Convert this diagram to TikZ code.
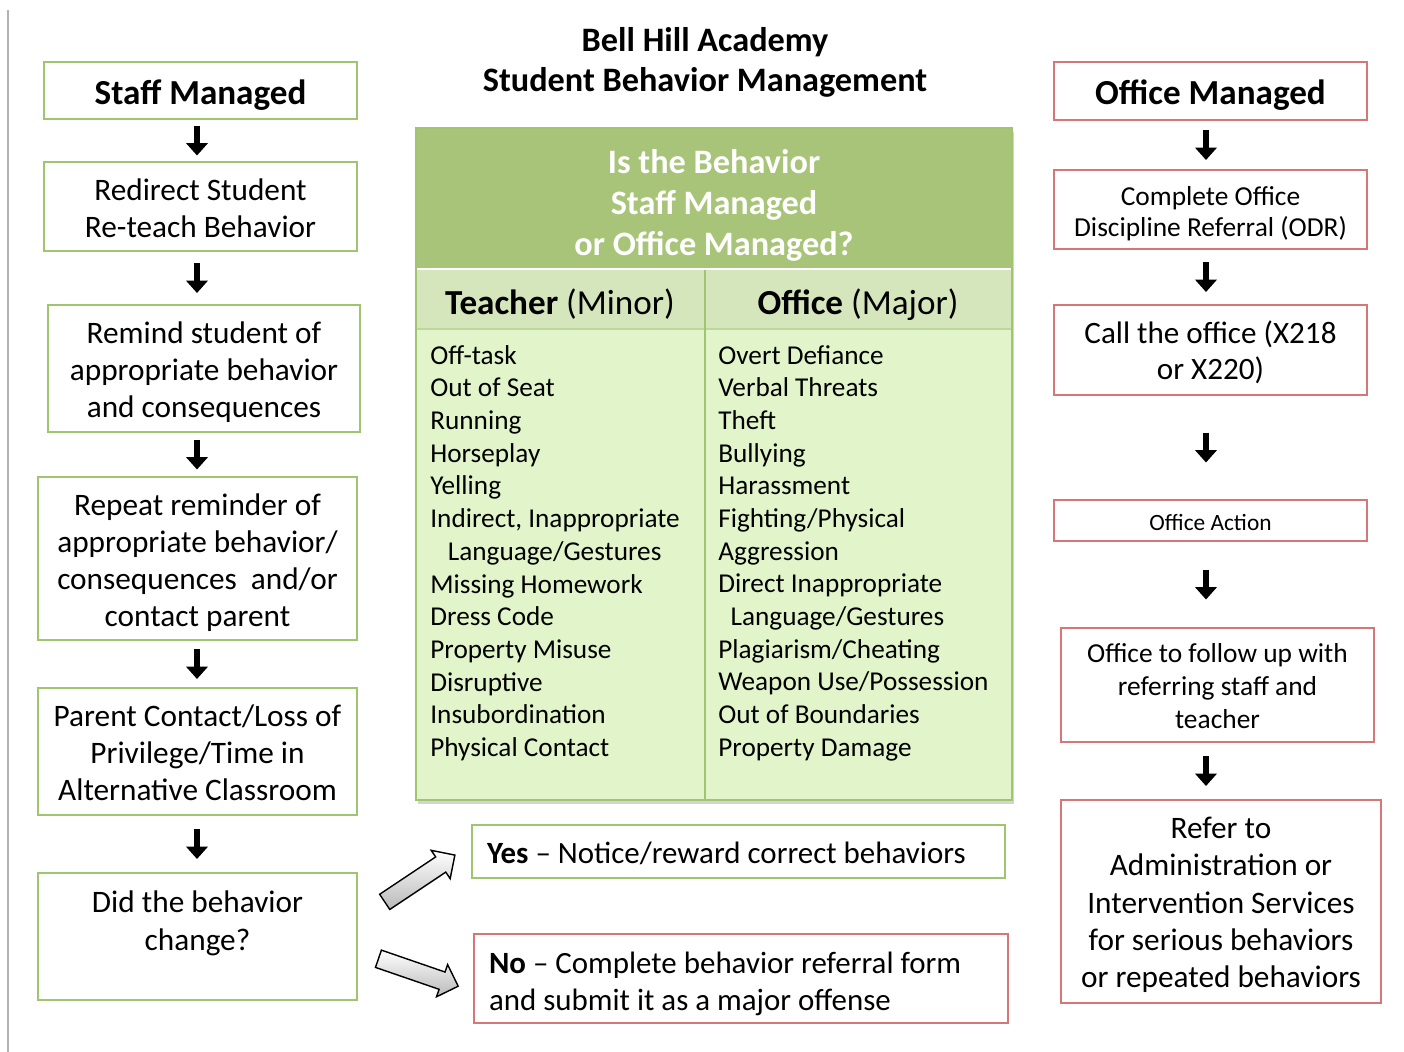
\documentclass[tikz,border=0pt]{standalone}
\usepackage{fontspec}
\setmainfont{Carlito}
\usetikzlibrary{calc,positioning,arrows.meta,shapes.arrows,shadows}

\definecolor{boxgreen}{RGB}{160,196,112}
\definecolor{boxred}{RGB}{214,118,118}
\definecolor{headgreen}{RGB}{168,196,120}
\definecolor{subgreen}{RGB}{214,230,188}
\definecolor{bodygreen}{RGB}{226,245,202}

\newcommand{\fs}[2]{\fontsize{#1}{#2}\selectfont}
% short black arrow half way between two boxes, at a fixed x
\newcommand{\stepdown}[3]{%
  \path ($(#2.south)!.5!(#3.north)$) coordinate (m);
  \draw[steparrow] (#1,0 |- m) ++(0,-15) -- ++(0,30);}

\tikzset{
  boxsize/.style 2 args={minimum width=#1*0.02cm, minimum height=#2*0.02cm},
  flowbox/.style={draw, line width=1.6pt, fill=white, align=center, inner sep=2pt},
  staffbox/.style={flowbox, draw=boxgreen},
  officebox/.style={flowbox, draw=boxred},
  % fixed text box height, so the lines sit where they should
  tall/.style={text height=#1, text depth=4pt},
  bodytext/.style={font=\fs{17.8}{21.2}},
  headtext/.style={font=\fs{20}{24}\bfseries, tall=19.4pt},
  steparrow/.style={line width=3.4pt, -{Triangle[length=7pt,width=12pt]}},
  bigarrow/.style={single arrow, draw=black, line width=0.8pt, top color=white,
    bottom color=gray!55, minimum height=48pt, inner sep=4.8pt,
    single arrow head extend=4.5pt},
  listtext/.style={anchor=north west, align=left, inner sep=0pt, font=\fs{15.5}{18.6}},
}

\begin{document}
\begin{tikzpicture}[x=0.02cm,y=-0.02cm]
\useasboundingbox (0,0) rectangle (1404,1052);
\draw[gray!60, line width=1.2pt] (8,10) -- (8,1052);

\node[font=\fs{19.5}{23}\bfseries, align=center] (title) at (705,62.5)
  {Bell Hill Academy\\Student Behavior Management};

% staff managed column
\node[staffbox, boxsize={313}{57}, headtext] (staff) at (200.5,90.5) {Staff Managed};
\node[staffbox, boxsize={313}{89}, bodytext, tall=39.8pt] (redirect) at (200.5,206.5)
  {Redirect Student\\Re-teach Behavior};
\node[staffbox, boxsize={312}{127}, bodytext, tall=60.2pt] (remind) at (204,368.5)
  {Remind student of\\appropriate behavior\\and consequences};
\node[staffbox, boxsize={319}{163}, bodytext, tall=81.7pt] (repeat) at (197.5,558.5)
  {Repeat reminder of\\appropriate behavior/\\consequences~ and/or\\contact parent};
\node[staffbox, boxsize={319}{127}, bodytext, tall=60.2pt] (parent) at (197.5,751.5)
  {Parent Contact/Loss of\\Privilege/Time in\\Alternative Classroom};
\node[staffbox, boxsize={319}{127}, bodytext, tall=19.4pt] (did) at (197.5,936.5)
  {Did the behavior\\change?};

\stepdown{197}{staff}{redirect}
\stepdown{197}{redirect}{remind}
\stepdown{197}{remind}{repeat}
\stepdown{197}{repeat}{parent}
\stepdown{197}{parent}{did}

% the question table
\fill[bodygreen, drop shadow={opacity=0.35, shadow xshift=1pt, shadow yshift=-2pt}]
  (416,128) rectangle (1012,800);
\fill[headgreen] (416,128) rectangle (1012,268);
\fill[subgreen] (416,270) rectangle (1012,328);
\draw[white, line width=1.5pt] (416,269) -- (1012,269);
\draw[boxgreen!70, line width=0.6pt] (416,329) -- (1012,329);
\draw[boxgreen, line width=0.6pt] (705,270) -- (705,800);
\draw[boxgreen, line width=0.8pt] (416,128) rectangle (1012,800);

\node[font=\fs{19.5}{23.3}\bfseries, text=white, align=center] (question) at (714,205)
  {Is the Behavior\\Staff Managed\\or Office Managed?};
\node[font=\fs{20}{24}] (minor) at (560,304.5) {\textbf{Teacher} (Minor)};
\node[font=\fs{20}{24}] (major) at (858,304.5) {\textbf{Office} (Major)};

\node[listtext] (minorlist) at (430,345) {Off-task\\Out of Seat\\Running\\Horseplay\\Yelling\\
  Indirect, Inappropriate\\\hspace*{10pt}Language/Gestures\\Missing Homework\\Dress Code\\
  Property Misuse\\Disruptive\\Insubordination\\Physical Contact};
\node[listtext] (majorlist) at (718,345) {Overt Defiance\\Verbal Threats\\Theft\\Bullying\\
  Harassment\\Fighting/Physical\\Aggression\\Direct Inappropriate\\
  \hspace*{7pt}Language/Gestures\\Plagiarism/Cheating\\Weapon Use/Possession\\
  Out of Boundaries\\Property Damage};

% outcomes
\node[staffbox, boxsize={533}{53}, align=flush left, inner xsep=0.3cm, text width=10.06cm,
  font=\fs{17.6}{21.2}, tall=18.2pt] (yes) at (738.5,851.5)
  {\textbf{Yes} -- Notice/reward correct behaviors};
\node[officebox, boxsize={534}{89}, align=flush left, inner xsep=0.3cm, text width=10.08cm,
  font=\fs{17.6}{21.2}, text height=18.8pt, text depth=25pt] (no) at (741,978.5)
  {\textbf{No} -- Complete behavior referral form\\and submit it as a major offense};

\node[bigarrow, rotate=33.7] (yesarrow) at (416,881) {};
\node[bigarrow, rotate=-19] (noarrow) at (414,971) {};

% office managed column
\node[officebox, boxsize={313}{58}, headtext] (office) at (1210.5,91) {Office Managed};
\node[officebox, boxsize={313}{79}, font=\fs{15.6}{18}, tall=35pt] (odr) at (1210.5,209.5)
  {Complete Office\\Discipline Referral (ODR)};
\node[officebox, boxsize={313}{90}, font=\fs{17.7}{20.5}, tall=38pt] (call) at (1210.5,350)
  {Call the office (X218\\or X220)};
\node[officebox, boxsize={313}{41}, font=\fs{13.3}{15}, tall=15.3pt] (action) at (1210.5,520.5)
  {Office Action};
\node[officebox, boxsize={313}{114}, font=\fs{15.6}{18.7}, tall=53.7pt] (follow) at (1217.5,685)
  {Office to follow up with\\referring staff and\\teacher};
\node[officebox, boxsize={320}{203}, bodytext, tall=102.1pt] (refer) at (1221,901.5)
  {Refer to\\Administration or\\Intervention Services\\for serious behaviors\\or repeated behaviors};

\stepdown{1206}{office}{odr}
\stepdown{1206}{odr}{call}
\stepdown{1206}{call}{action}
\stepdown{1206}{action}{follow}
\stepdown{1206}{follow}{refer}
\end{tikzpicture}
\end{document}
